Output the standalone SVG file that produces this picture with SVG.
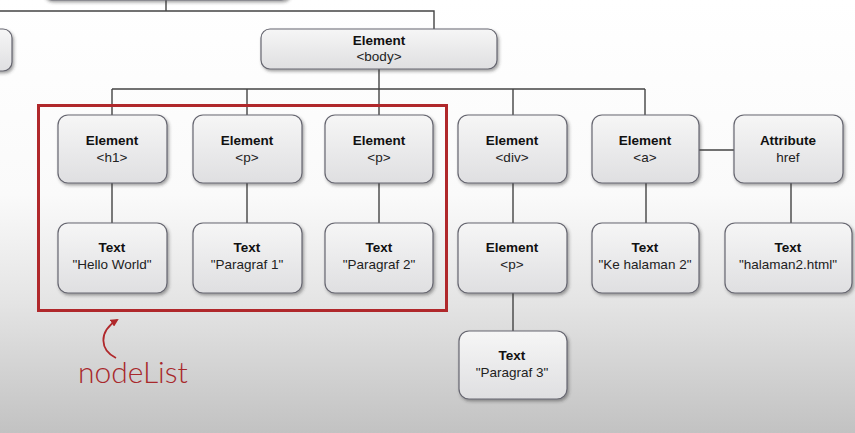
<svg xmlns="http://www.w3.org/2000/svg" width="855" height="433" viewBox="0 0 855 433">
<defs>
<linearGradient id="bg" x1="0" y1="0" x2="0" y2="1">
<stop offset="0" stop-color="#ffffff"/>
<stop offset="0.45" stop-color="#fafafa"/>
<stop offset="0.7" stop-color="#e4e4e4"/>
<stop offset="1" stop-color="#c2c2c2"/>
</linearGradient>
<linearGradient id="nf" x1="0" y1="0" x2="0" y2="1">
<stop offset="0" stop-color="#f6f6f6"/>
<stop offset="1" stop-color="#dfdfe1"/>
</linearGradient>
<filter id="sh" x="-10%" y="-10%" width="125%" height="135%">
<feDropShadow dx="1.5" dy="2" stdDeviation="1.5" flood-color="#333" flood-opacity="0.45"/>
</filter>
<marker id="ah" markerWidth="8" markerHeight="8" refX="6" refY="4" orient="auto" markerUnits="userSpaceOnUse">
<path d="M0,0 L8,4 L0,8 Z" fill="#b0282b"/>
</marker>
<style>
.n{fill:url(#nf);stroke:#666670;stroke-width:1.2;filter:url(#sh)}
.t1{font-family:"Liberation Sans",Arial,sans-serif;font-size:13.5px;font-weight:bold;fill:#111;text-anchor:middle}
.t2{font-family:"Liberation Sans",Arial,sans-serif;font-size:13.5px;fill:#222;text-anchor:middle}
.c{stroke:#444;stroke-width:1.4;fill:none}
</style>
</defs>
<rect width="855" height="433" fill="url(#bg)"/>
<g id="connectors">
<path class="c" d="M166,0 V11 M0,11 H434 V29"/>
<path class="c" d="M379,69 V89 M112,89 H645 M112,89 V115 M247,89 V115 M379,89 V115 M513,89 V115 M645,89 V115"/>
<path class="c" d="M112,183 V223 M247,183 V223 M379,183 V223 M513,183 V223 M513,293 V331 M646,183 V223 M699,150 H734 M791,183 V223"/>
</g>
<g id="node-top"><rect class="n" x="43" y="-40" width="247" height="40" rx="9"/></g>
<g id="node-left"><rect class="n" x="-40" y="29" width="52" height="42" rx="9"/></g>
<g id="node-body"><rect class="n" x="261" y="29" width="236" height="40" rx="9"/>
<text class="t1" x="379" y="45">Element</text><text class="t2" x="379" y="61">&lt;body&gt;</text></g>
<g id="node-h1"><rect class="n" x="58" y="115" width="109" height="68" rx="10"/>
<text class="t1" x="112" y="145">Element</text><text class="t2" x="112" y="162">&lt;h1&gt;</text></g>
<g id="node-p1"><rect class="n" x="193" y="115" width="109" height="68" rx="10"/>
<text class="t1" x="247" y="145">Element</text><text class="t2" x="247" y="162">&lt;p&gt;</text></g>
<g id="node-p2"><rect class="n" x="325" y="115" width="108" height="68" rx="10"/>
<text class="t1" x="379" y="145">Element</text><text class="t2" x="379" y="162">&lt;p&gt;</text></g>
<g id="node-div"><rect class="n" x="458" y="115" width="109" height="68" rx="10"/>
<text class="t1" x="512" y="145">Element</text><text class="t2" x="512" y="162">&lt;div&gt;</text></g>
<g id="node-a"><rect class="n" x="592" y="115" width="107" height="68" rx="10"/>
<text class="t1" x="645" y="145">Element</text><text class="t2" x="645" y="162">&lt;a&gt;</text></g>
<g id="node-attr"><rect class="n" x="734" y="115" width="109" height="68" rx="10"/>
<text class="t1" x="788" y="145">Attribute</text><text class="t2" x="788" y="162">href</text></g>
<g id="node-t1"><rect class="n" x="58" y="223" width="109" height="70" rx="10"/>
<text class="t1" x="112" y="252">Text</text><text class="t2" x="112" y="269">"Hello World"</text></g>
<g id="node-t2"><rect class="n" x="193" y="223" width="109" height="70" rx="10"/>
<text class="t1" x="247" y="252">Text</text><text class="t2" x="247" y="269">"Paragraf 1"</text></g>
<g id="node-t3"><rect class="n" x="325" y="223" width="108" height="70" rx="10"/>
<text class="t1" x="379" y="252">Text</text><text class="t2" x="379" y="269">"Paragraf 2"</text></g>
<g id="node-divp"><rect class="n" x="458" y="223" width="109" height="70" rx="10"/>
<text class="t1" x="512" y="252">Element</text><text class="t2" x="512" y="269">&lt;p&gt;</text></g>
<g id="node-t4"><rect class="n" x="592" y="223" width="107" height="70" rx="10"/>
<text class="t1" x="645" y="252">Text</text><text class="t2" x="645" y="269">"Ke halaman 2"</text></g>
<g id="node-t5"><rect class="n" x="725" y="223" width="127" height="70" rx="10"/>
<text class="t1" x="788" y="252">Text</text><text class="t2" x="788" y="269">"halaman2.html"</text></g>
<g id="node-t6"><rect class="n" x="459" y="331" width="108" height="68" rx="10"/>
<text class="t1" x="512" y="360">Text</text><text class="t2" x="512" y="377">"Paragraf 3"</text></g>
<g id="nodelist">
<rect x="38.5" y="105.5" width="408" height="205" fill="none" stroke="#b0282b" stroke-width="3"/>
<path d="M116,358 C100,350 98,332 117,320" fill="none" stroke="#b0282b" stroke-width="1.8" marker-end="url(#ah)"/>
<text x="78" y="383" font-family="Lato,'Liberation Sans',Arial,sans-serif" font-weight="300" font-size="30" fill="#a8282b">nodeList</text>
</g>
</svg>
